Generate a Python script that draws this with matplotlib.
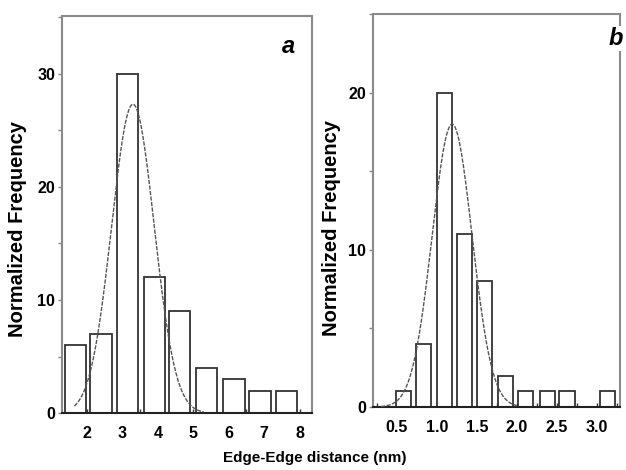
import numpy as np
import matplotlib
matplotlib.use("Agg")
import matplotlib.pyplot as plt
from matplotlib.ticker import MultipleLocator, FormatStrFormatter

plt.rcParams['font.family'] = ['Liberation Sans', 'DejaVu Sans']
plt.rcParams['font.weight'] = 'bold'

# panel a: edge-edge distance histogram
a_centers = [1.68, 2.40, 3.14, 3.90, 4.62, 5.38, 6.15, 6.88, 7.62]
a_heights = [6, 7, 30, 12, 9, 4, 3, 2, 2]
a_fit = dict(amp=27.3, mu=3.3, sigma=0.6, start=1.65, stop=5.3)

# panel b
b_centers = [0.585, 0.83, 1.095, 1.35, 1.60, 1.855, 2.105, 2.38, 2.63, 3.14]
b_heights = [1, 4, 20, 11, 8, 2, 1, 1, 1, 1]
b_fit = dict(amp=18.0, mu=1.19, sigma=0.25, start=0.3, stop=2.0)
b_ticks = [0.5, 1.0, 1.5, 2.0, 2.5, 3.0]

fig = plt.figure(figsize=(6.26, 4.70), dpi=100)
ax_a = fig.add_axes([0.099, 0.121, 0.399, 0.845])
ax_b = fig.add_axes([0.596, 0.134, 0.394, 0.836])


def draw_panel(ax, centers, heights, width, fit, xlim, ylim, xmaj, xmin, ymaj,
               letter, letter_xy, ylabel_xy):
    ax.bar(centers, heights, width=width, facecolor='white', edgecolor='#333333',
           linewidth=1.3, zorder=2)
    xs = np.linspace(fit['start'], fit['stop'], 200)
    ys = fit['amp'] * np.exp(-(xs - fit['mu']) ** 2 / (2 * fit['sigma'] ** 2))
    ax.plot(xs, ys, color='#555555', linewidth=1.0, dashes=(3, 1), zorder=3)
    ax.set_xlim(*xlim)
    ax.set_ylim(*ylim)
    ax.xaxis.set_major_locator(MultipleLocator(xmaj))
    ax.xaxis.set_minor_locator(MultipleLocator(xmin))
    ax.yaxis.set_major_locator(MultipleLocator(ymaj))
    ax.yaxis.set_minor_locator(MultipleLocator(ymaj / 2))
    ax.tick_params(axis='x', which='both', direction='in', length=3, width=1,
                   color='#333333', labelsize=11.5, pad=9)
    ax.tick_params(axis='y', which='both', direction='out', length=3, width=1,
                   color='#888888', labelsize=11.5, pad=2)
    for s in ['left', 'top', 'right']:
        ax.spines[s].set_color('#8a8a8a')
        ax.spines[s].set_linewidth(1.5)
    ax.spines['bottom'].set_color('#222222')
    ax.spines['bottom'].set_linewidth(1.5)
    ax.set_ylabel('Normalized Frequency', fontsize=14.5, fontweight='bold')
    ax.yaxis.set_label_coords(*ylabel_xy)
    ax.text(letter_xy[0], letter_xy[1], letter, transform=ax.transAxes, fontsize=17,
            fontweight='bold', fontstyle='italic', ha='center', va='center',
            bbox=dict(facecolor='white', edgecolor='none', pad=1), zorder=5)


draw_panel(ax_a, a_centers, a_heights, 0.6, a_fit, (1.3, 8.34), (0, 35.1), 1, 0.5, 10,
           'a', (0.908, 0.924), (-0.142, 0.463))
draw_panel(ax_b, b_centers, b_heights, 0.19, b_fit, (0.2, 3.29), (0, 25), 0.5, 0.25, 10,
           'b', (0.982, 0.938), (-0.132, 0.455))
ax_b.set_xticks(b_ticks)
ax_b.xaxis.set_major_formatter(FormatStrFormatter('%.1f'))

fig.text(0.502, 0.025, 'Edge-Edge distance (nm)', ha='center', va='center',
         fontsize=11, fontweight='bold')

fig.savefig('out.png', dpi=100)
